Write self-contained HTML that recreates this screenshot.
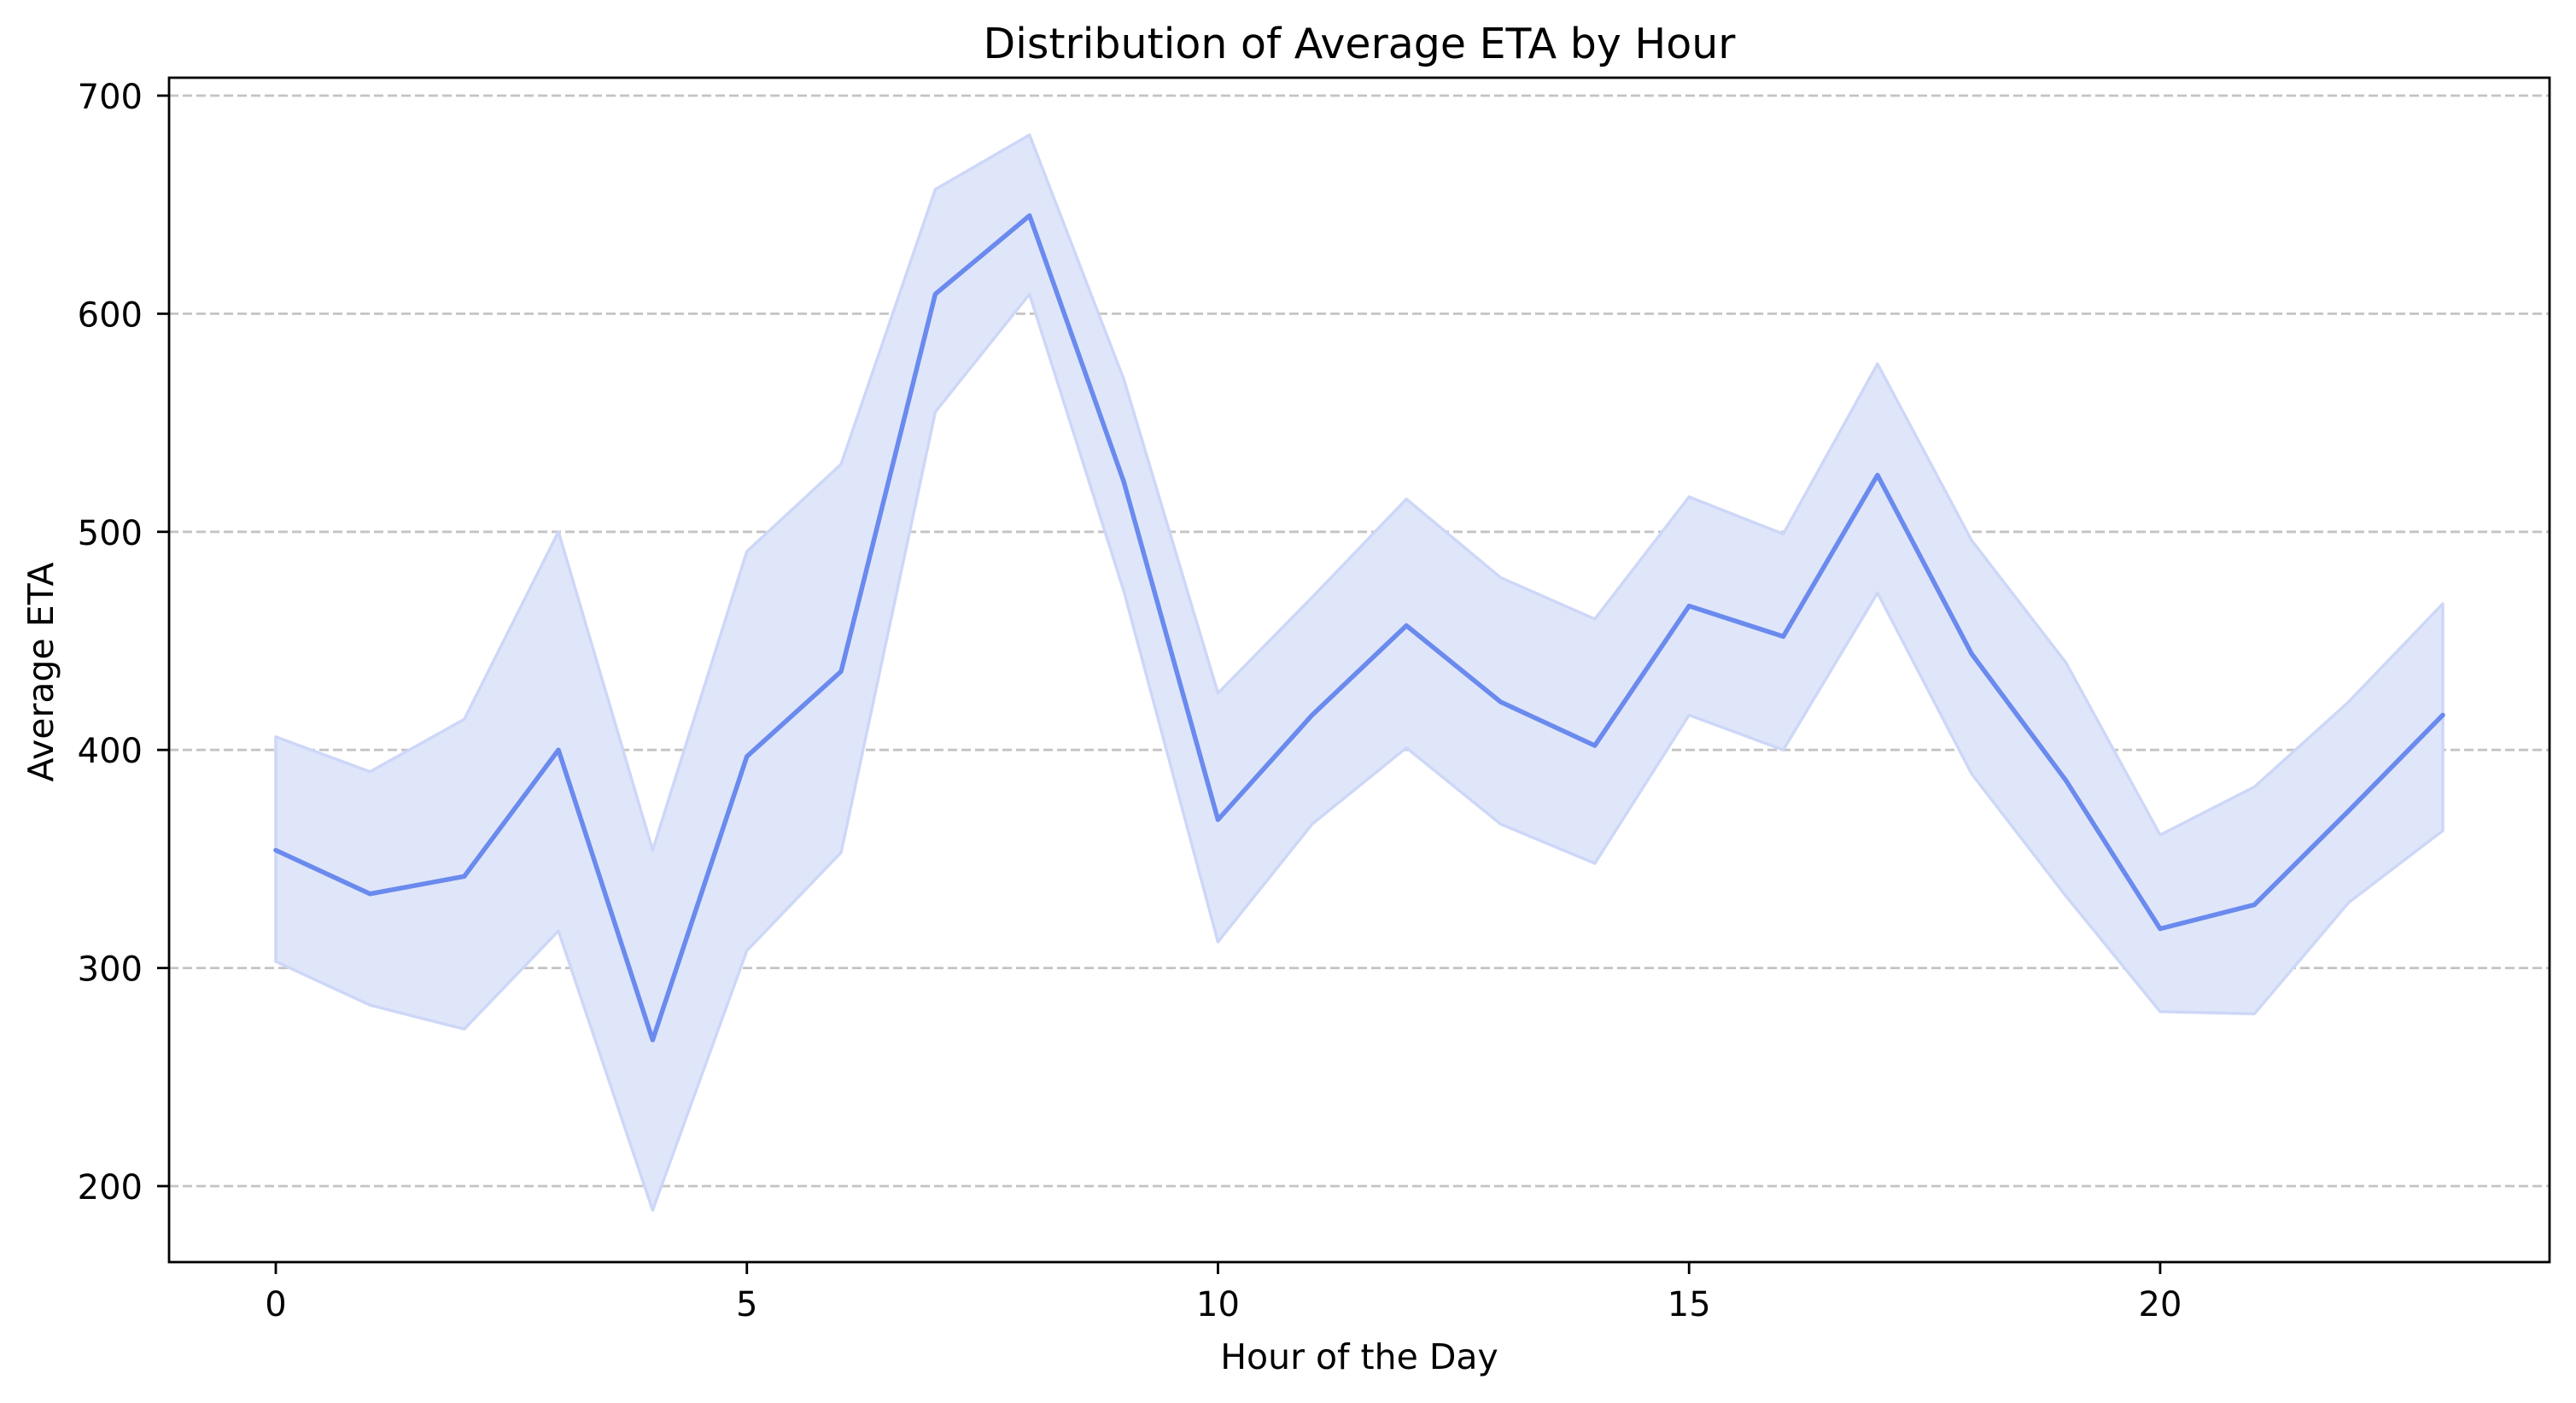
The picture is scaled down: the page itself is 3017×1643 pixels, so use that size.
<!DOCTYPE html>
<html><head><meta charset="utf-8"><style>
body{margin:0;background:#fff}
svg text{font-family:"DejaVu Sans","Liberation Sans",sans-serif;fill:#000}
</style></head><body>
<svg id="chart" width="3017" height="1638" xmlns="http://www.w3.org/2000/svg">
<rect width="3017" height="1638" fill="#fff"/>
<g id="grid"></g>
<g id="band"></g>
<g id="line"></g>
<rect x="198" y="91" width="2788" height="1387" fill="none" stroke="#000" stroke-width="2.8"/>
<g id="ticks"></g>
<text x="1592" y="68" font-size="49" text-anchor="middle">Distribution of Average ETA by Hour</text>
<text x="1592" y="1603" font-size="41" text-anchor="middle">Hour of the Day</text>
<text x="62" y="787" font-size="41" text-anchor="middle" transform="rotate(-90 62 787)">Average ETA</text>
</svg>
<script>
const hours=[0,1,2,3,4,5,6,7,8,9,10,11,12,13,14,15,16,17,18,19,20,21,22,23];
const meanEta=[354,334,342,400,267,397,436,609,645,523,368,416,457,422,402,466,452,526,444,386,318,329,372,416];
const upperEta=[406,390,414,500,354,491,531,657,682,570,426,470,515,479,460,516,499,577,496,440,361,383,422,467];
const lowerEta=[303,283,272,317,189,308,353,555,609,473,312,366,401,366,348,416,400,472,389,333,280,279,330,363];
const yTicks=[200,300,400,500,600,700];
const xTicks=[0,5,10,15,20];
const NS='http://www.w3.org/2000/svg';
const xs=h=>323+(h-0)*(2861-323)/23;
const ys=v=>1389-(v-200)*(1389-112)/500;
function mk(t,a,p){const e=document.createElementNS(NS,t);for(const k in a)e.setAttribute(k,a[k]);p.appendChild(e);return e;}
const grid=document.getElementById('grid'),ticks=document.getElementById('ticks');
yTicks.forEach(v=>{
 const g=mk('line',{x1:198,x2:2986,y1:ys(v),y2:ys(v),stroke:'#c4c4c4','stroke-width':2.8,'stroke-dasharray':'11,5'},grid);
 
 
 const t=mk('line',{x1:184,x2:198,y1:ys(v),y2:ys(v),stroke:'#000','stroke-width':2.8},ticks);
 
 
 const l=mk('text',{x:167,y:ys(v)+15,'font-size':40,'text-anchor':'end'},ticks);
 l.textContent=v;
 
 
});
xTicks.forEach(v=>{
 const t=mk('line',{x1:xs(v),x2:xs(v),y1:1478,y2:1492,stroke:'#000','stroke-width':2.8},ticks);
 
 
 const l=mk('text',{x:xs(v),y:1541,'font-size':40,'text-anchor':'middle'},ticks);
 l.textContent=v;
 
 
});
let d=hours.map((h,i)=>(i?'L':'M')+xs(h)+','+ys(upperEta[i])).join('');
for(let i=hours.length-1;i>=0;i--)d+='L'+xs(hours[i])+','+ys(lowerEta[i]);
const b=mk('path',{d:d+'Z',fill:'#e0e6fa',stroke:'#cdd7f7','stroke-width':3.5,'stroke-linejoin':'round'},document.getElementById('band'));


const ln=mk('polyline',{points:hours.map((h,i)=>xs(h)+','+ys(meanEta[i])).join(' '),fill:'none',stroke:'#6a8aee','stroke-width':5.5,'stroke-linejoin':'round','stroke-linecap':'round'},document.getElementById('line'));


</script>
</body></html>
